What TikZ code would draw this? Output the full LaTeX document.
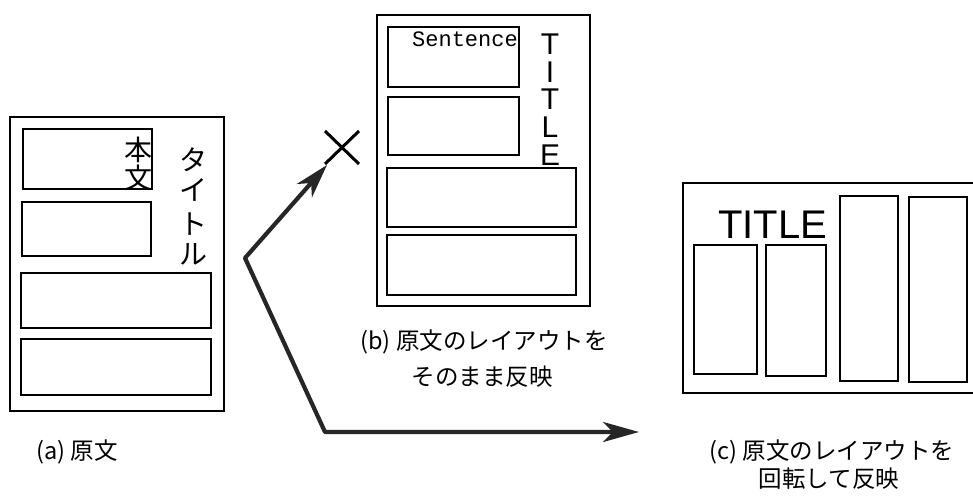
\documentclass[tikz,border=0pt]{standalone}
\usepackage{fontspec}
\usetikzlibrary{arrows.meta}
\newfontfamily\jp{Noto Sans CJK JP}
\newfontfamily\monof{Liberation Mono}
\newfontfamily\sansf{Liberation Sans}
\tikzset{
  docbox/.style={draw, line width=1.8pt, inner sep=0pt, outer sep=0pt},
  innerbox/.style={draw, line width=1.6pt, inner sep=0pt, outer sep=0pt},
  vchar/.style={inner sep=0pt, font=\jp\fontsize{28}{28}\selectfont},
  ttlchar/.style={inner sep=0pt, anchor=base, font=\sansf\fontsize{30}{30}\selectfont},
  caption/.style={inner sep=0pt, font=\jp\fontsize{23.5}{30}\selectfont, align=center},
  flowarrow/.style={line width=4.2pt, black!85, line join=round,
    {Stealth[length=34pt,width=20pt,inset=10pt]}-{Stealth[length=36pt,width=20pt,inset=10pt]}},
  cross/.style={line width=3pt}
}
\begin{document}
\begin{tikzpicture}[x=1pt,y=-1pt]
\useasboundingbox (0,0) rectangle (973,497);
\clip (0,0) rectangle (973,497);
\fill[white] (0,0) rectangle (973,497);

% ---------- (a) original ----------
\node[docbox, minimum width=214pt, minimum height=294pt] (a0) at (117,264) {};
\node[innerbox, minimum width=129pt, minimum height=60pt] (a1) at (87.5,159) {};
\node[innerbox, minimum width=129pt, minimum height=54pt] (a2) at (86.5,229) {};
\node[innerbox, minimum width=190pt, minimum height=55pt] (a3) at (116,300.5) {};
\node[innerbox, minimum width=190pt, minimum height=56pt] (a4) at (116,367) {};
\node[vchar] (hon) at (138,149.5) {本};
\node[vchar] (bun) at (138,177.5) {文};
\node[vchar] (ta) at (193,160) {タ};
\node[vchar] (i) at (193,190) {イ};
\node[vchar] (to) at (193,224) {ト};
\node[vchar] (ru) at (193,254) {ル};
\node[caption, anchor=west] (capa) at (36,452) {(a) 原文};

% ---------- (b) same layout ----------
\node[docbox, minimum width=213pt, minimum height=291pt] (b0) at (483.5,160.5) {};
\node[innerbox, minimum width=131pt, minimum height=60pt] (b1) at (453.5,57) {};
\node[innerbox, minimum width=131pt, minimum height=58pt] (b2) at (453.5,126) {};
\node[innerbox, minimum width=189pt, minimum height=59pt] (b3) at (481.5,197.5) {};
\node[innerbox, minimum width=189pt, minimum height=60pt] (b4) at (481.5,265) {};
\node[inner sep=0pt, anchor=base east, font=\monof\fontsize{22}{22}\selectfont] (sent) at (518,47) {Sentence};
\foreach \c/\yy [count=\k] in {T/54.5, I/82.1, T/109.7, L/137.3, E/165}
  \node[ttlchar] (bt\k) at (550,\yy) {\c};
\node[caption] (capb1) at (484,342) {(b) 原文のレイアウトを};
\node[caption] (capb2) at (482,377) {そのまま反映};

% cross
\coordinate (x1) at (325,131);
\coordinate (x2) at (359,164);
\coordinate (x3) at (359,131);
\coordinate (x4) at (325,164);
\draw[cross] (x1) -- (x2);
\draw[cross] (x3) -- (x4);

% ---------- (c) rotated layout ----------
\node[docbox, minimum width=307pt, minimum height=210pt] (c0) at (836.5,288) {};
\node[innerbox, minimum width=63pt, minimum height=129pt] (c1) at (725.5,309.5) {};
\node[innerbox, minimum width=60pt, minimum height=131pt] (c2) at (796,310.5) {};
\node[innerbox, minimum width=58pt, minimum height=185pt] (c3) at (869,288.5) {};
\node[innerbox, minimum width=58pt, minimum height=185pt] (c4) at (938,289.5) {};
\node[inner sep=0pt, anchor=base west, font=\sansf\fontsize{40}{40}\selectfont] (ctitle) at (718,238) {TITLE};
\node[caption] (capc1) at (832,452) {(c) 原文のレイアウトを};
\node[caption] (capc2) at (829,479) {回転して反映};

% ---------- arrows ----------
\coordinate (up) at (327,165);
\coordinate (bend1) at (245,258);
\coordinate (bend2) at (325,432);
\coordinate (tip) at (639,432);
\draw[flowarrow] (up) -- (bend1) -- (bend2) -- (tip);
\end{tikzpicture}
\end{document}
